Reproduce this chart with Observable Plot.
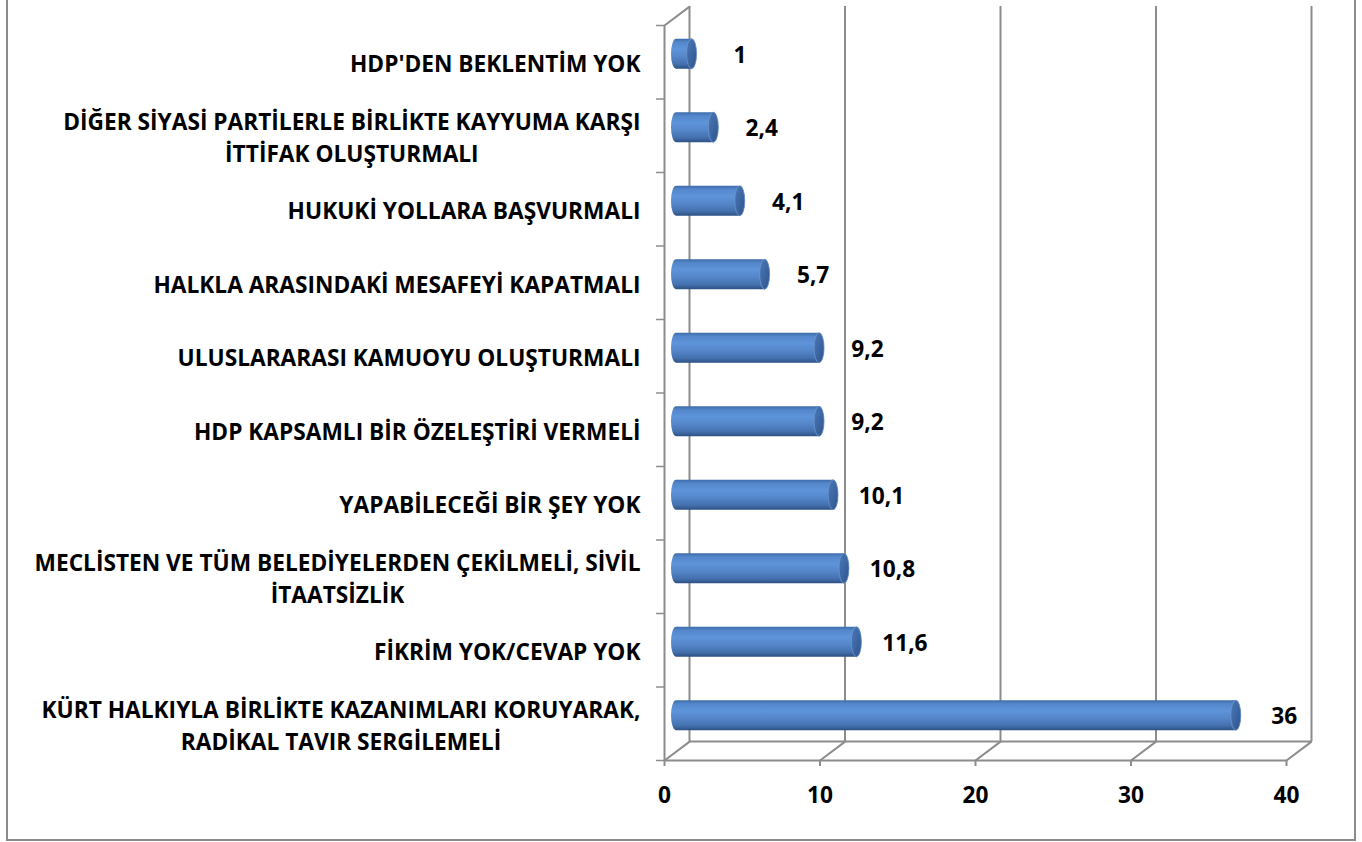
<!DOCTYPE html>
<html><head><meta charset="utf-8">
<script src="https://cdn.jsdelivr.net/npm/d3@7"></script>
<script src="https://cdn.jsdelivr.net/npm/@observablehq/plot@0.6"></script>
<style>
body{margin:0;background:#fff;}
#wrap{position:relative;width:1362px;height:842px;overflow:hidden;background:#fff;}
#wrap svg{position:absolute;left:0;top:0;}
#border{position:absolute;left:6px;top:-4px;width:1350px;height:845px;border:2px solid #8a8a8a;box-sizing:border-box;}
</style></head><body><div id="wrap"><div id="border"></div></div>
<script>
// ---- data ----
const categories = [
  "HDP'DEN BEKLENTİM YOK",
  "DİĞER SİYASİ PARTİLERLE BİRLİKTE KAYYUMA KARŞI\nİTTİFAK OLUŞTURMALI",
  "HUKUKİ YOLLARA BAŞVURMALI",
  "HALKLA ARASINDAKİ MESAFEYİ KAPATMALI",
  "ULUSLARARASI KAMUOYU OLUŞTURMALI",
  "HDP KAPSAMLI BİR ÖZELEŞTİRİ VERMELİ",
  "YAPABİLECEĞİ BİR ŞEY YOK",
  "MECLİSTEN VE TÜM BELEDİYELERDEN ÇEKİLMELİ, SİVİL\nİTAATSİZLİK",
  "FİKRİM YOK/CEVAP YOK",
  "KÜRT HALKIYLA BİRLİKTE KAZANIMLARI KORUYARAK,\nRADİKAL TAVIR SERGİLEMELİ"
];
const values = [1, 2.4, 4.1, 5.7, 9.2, 9.2, 10.1, 10.8, 11.6, 36];
const xTicks = [0, 10, 20, 30, 40];

// ---- build ----
const n = categories.length;
const rows = categories.map((c, i) => ({cat: c, value: values[i], i}));
const fontFamily = "'Open Sans', sans-serif";
const grid = "#8c8c8c";

// measure label widths to center the wrapped lines under each other
const ctx = document.createElement("canvas").getContext("2d");
ctx.font = `bold 100px ${fontFamily}`;
const lineW = s => ctx.measureText(s).width / 100;
const longest = d3.max(categories.flatMap(c => c.split("\n")), lineW);
const labelSize = Math.min(23, 606 / longest);

const fmt = v => String(v).replace(".", ",");
const lineShape = {draw(context, l) { context.moveTo(0, 0); context.lineTo(0, -l); }};
const cylOpts = {
  y1: d => d.i, y2: d => d.i + 1, insetTop: 21.75, insetBottom: 21.75,
  dx: 12, dy: -8, insetLeft: -5, insetRight: -5, rx: 5, ry: 15
};

const labelMarks = rows.map(r => {
  const w = d3.max(r.cat.split("\n"), s => lineW(s) * labelSize);
  return Plot.text([r], {
    y: d => d.i + 0.5, text: "cat", frameAnchor: "left", textAnchor: "middle",
    dx: -24 - w / 2, lineHeight: 1.4, fontSize: labelSize, fontWeight: "bold", fill: "#000"
  });
});

const chart = Plot.plot({
  width: 1362, height: 842,
  marginLeft: 664, marginRight: 76, marginTop: 25, marginBottom: 82,
  x: {domain: [0, 40], label: null},
  y: {domain: [0, n], reverse: true, label: null},
  style: {fontFamily, background: "transparent"},
  marks: [
    // back wall gridlines and floor edge
    Plot.ruleX(xTicks, {dx: 25, dy: -19, stroke: grid, strokeWidth: 2}),
    Plot.ruleY([n], {x1: () => 0, x2: () => 40, dx: 25, dy: -19, stroke: grid, strokeWidth: 2}),
    // depth diagonals
    Plot.vector(xTicks, {x: d => d, y: () => n, length: 31, rotate: 53, anchor: "start", shape: lineShape, stroke: grid, strokeWidth: 2}),
    Plot.vector([0], {x: d => d, y: () => 0, length: 31, rotate: 53, anchor: "start", shape: lineShape, stroke: grid, strokeWidth: 2}),
    // front axes
    Plot.ruleX([0], {stroke: grid, strokeWidth: 2}),
    Plot.ruleY([n], {x1: () => 0, x2: () => 40, stroke: grid, strokeWidth: 2}),
    Plot.axisY(d3.range(n + 1), {anchor: "left", tickSize: 8, tickFormat: () => "", label: null, stroke: grid, strokeWidth: 1.5}),
    Plot.axisX(xTicks, {anchor: "bottom", tickSize: 6, tickPadding: 20, label: null, fontSize: labelSize, fontWeight: "bold", fill: "#000", stroke: grid, strokeWidth: 2}),
    // cylinders
    Plot.rect(rows, {x1: () => 0, x2: "value", ...cylOpts, fill: "url(#cylBody)"}),
    Plot.rect(rows, {x1: "value", x2: "value", ...cylOpts, fill: "url(#cylCap)", stroke: "#6d95cc", strokeWidth: 0.8}),
    // value labels
    Plot.text(rows, {x: "value", y: d => d.i + 0.5, text: d => fmt(d.value), dx: 60, dy: -7, fontSize: labelSize, fontWeight: "bold", fill: "#000"}),
    ...labelMarks
  ]
});

const svg = d3.select(chart);
const defs = svg.insert("defs", ":first-child");
const gb = defs.append("linearGradient").attr("id", "cylBody").attr("x1", 0).attr("y1", 0).attr("x2", 0).attr("y2", 1);
[[0, "#3d6ca9"], [0.12, "#5487cb"], [0.35, "#5e94da"], [0.6, "#5486c9"], [0.85, "#4470ad"], [1, "#2d5084"]]
  .forEach(([o, c]) => gb.append("stop").attr("offset", o).attr("stop-color", c));
const gc = defs.append("linearGradient").attr("id", "cylCap").attr("x1", 0).attr("y1", 0).attr("x2", 1).attr("y2", 1);
[[0, "#4a78b6"], [0.5, "#3d67a3"], [1, "#2e5286"]]
  .forEach(([o, c]) => gc.append("stop").attr("offset", o).attr("stop-color", c));

document.getElementById("wrap").appendChild(chart);
</script>
</body></html>
